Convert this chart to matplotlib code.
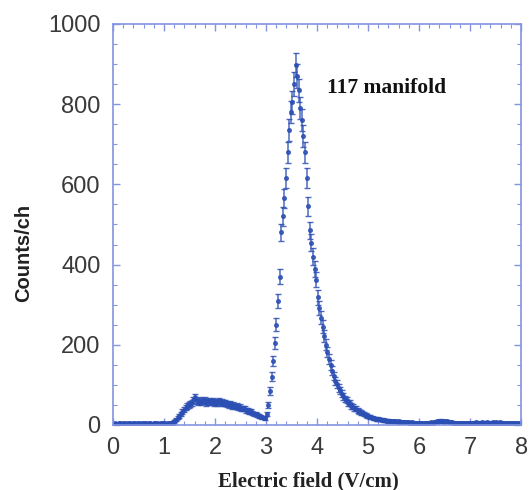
"""
Counts per channel vs electric field, 117 manifold.
"""
import matplotlib
matplotlib.use("Agg")
import matplotlib.pyplot as plt
import numpy as np
from matplotlib.ticker import MultipleLocator

# channel width in V/cm, 256 channels from 0 to 8
CH_WIDTH = 0.03125
counts = [
    3, 4, 3, 5, 4, 3, 4, 4, 3, 5, 4, 3, 4, 5, 3, 4,
    4, 3, 5, 4, 4, 3, 5, 4, 3, 4, 5, 4, 3, 4, 4, 5,
    4, 3, 5, 4, 5, 6, 9, 13, 18, 23, 28, 33, 38, 43, 47, 50,
    53, 56, 62, 70, 60, 58, 61, 57, 59, 62, 56, 58, 60, 57, 59, 55,
    58, 56, 59, 55, 57, 54, 56, 52, 50, 53, 48, 50, 46, 47, 44, 45,
    42, 40, 41, 37, 36, 33, 34, 30, 28, 27, 24, 22, 21, 19, 18, 17,
    28, 50, 85, 120, 160, 205, 250, 310, 370, 480, 520, 565, 615, 680, 735, 780,
    805, 850, 898, 870, 835, 790, 760, 720, 680, 615, 545, 485, 455, 420, 390, 362,
    318, 292, 268, 245, 222, 200, 182, 165, 150, 135, 122, 110, 102, 92, 86, 78,
    72, 65, 62, 55, 54, 48, 46, 42, 40, 36, 34, 31, 30, 27, 25, 23,
    21, 20, 18, 17, 16, 15, 14, 14, 13, 12, 12, 11, 11, 10, 10, 9,
    9, 9, 8, 9, 8, 8, 7, 8, 7, 7, 6, 7, 6, 6, 6, 5,
    6, 5, 6, 5, 6, 6, 5, 7, 6, 7, 8, 9, 10, 11, 9, 8,
    10, 9, 8, 7, 7, 6, 6, 5, 6, 5, 5, 6, 5, 6, 5, 5,
    6, 5, 6, 7, 6, 5, 6, 7, 6, 6, 7, 6, 5, 6, 7, 6,
    7, 6, 7, 6, 5, 6, 5, 6, 5, 4, 5, 4, 5, 4, 4, 4,
]
label_text = "117 manifold"

counts = np.array(counts, dtype=float)
field = (np.arange(counts.size) + 0.5) * CH_WIDTH
err = np.sqrt(counts)

DATA_C = "#2c4fb3"
AXIS_C = "#8394e0"
TICK_TXT = "#3a3a3a"

fig = plt.figure(figsize=(5.29, 4.90), dpi=100)
ax = fig.add_axes([0.2136, 0.1327, 0.7714, 0.8184])

ax.errorbar(field, counts, yerr=err, fmt="o", ms=2.6, color=DATA_C,
            ecolor=DATA_C, elinewidth=1.1, capsize=2.0, capthick=1.0,
            alpha=0.85)

ax.set_xlim(0, 8)
ax.set_ylim(0, 1000)
ax.xaxis.set_major_locator(MultipleLocator(1))
ax.xaxis.set_minor_locator(MultipleLocator(0.2))
ax.yaxis.set_major_locator(MultipleLocator(200))
ax.yaxis.set_minor_locator(MultipleLocator(50))

for s in ax.spines.values():
    s.set_color(AXIS_C)
    s.set_linewidth(1.2)
ax.tick_params(which="both", direction="in", top=True, right=True,
               color=AXIS_C, labelcolor=TICK_TXT)
ax.tick_params(which="major", length=5, width=1.0, labelsize=17, pad=9)
ax.tick_params(which="minor", length=3, width=0.8)
for t in ax.get_xticklabels() + ax.get_yticklabels():
    t.set_fontfamily("Liberation Sans")

ax.set_xlabel("Electric field (V/cm)", fontfamily="Liberation Serif",
              fontweight="bold", fontsize=15, color="#222222")
ax.set_ylabel("Counts/ch", fontfamily="Liberation Sans", fontweight="bold",
              fontsize=14.5, color="#222222")
ax.xaxis.set_label_coords(0.478, -0.115)
ax.yaxis.set_label_coords(-0.195, 0.43)

ax.text(4.2, 840, label_text, fontfamily="Liberation Serif",
        fontweight="bold", fontsize=15.5, va="center", ha="left",
        color="#111111")

fig.savefig("out.png", dpi=100)
